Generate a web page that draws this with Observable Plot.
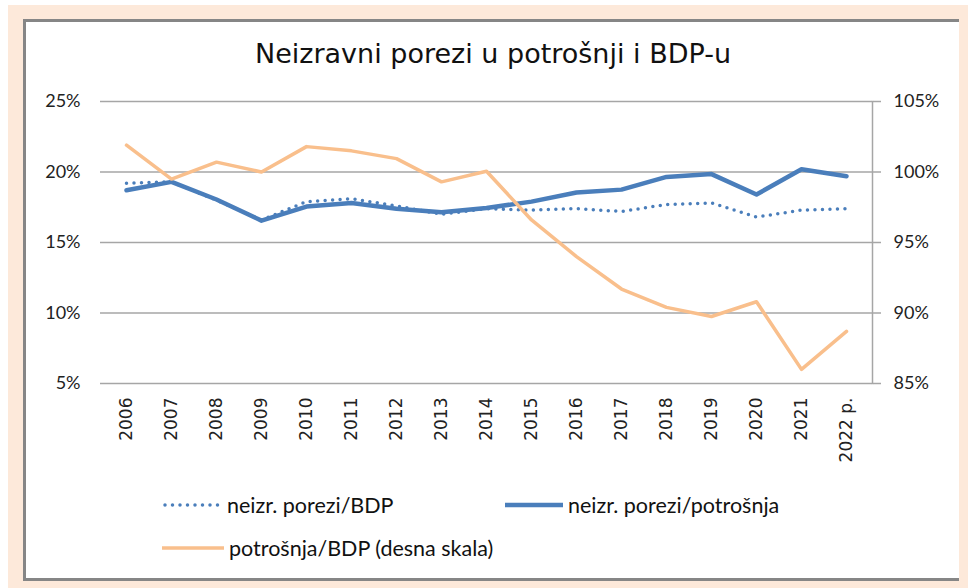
<!DOCTYPE html>
<html><head><meta charset="utf-8">
<script src="https://cdn.jsdelivr.net/npm/d3@7"></script>
<script src="https://cdn.jsdelivr.net/npm/@observablehq/plot@0.6"></script>
<style>
body{margin:0;width:968px;height:588px;position:relative;overflow:hidden;background:#fff;font-family:"DejaVu Sans",sans-serif;}
#bg{position:absolute;left:8px;top:5px;width:960px;height:583px;background:#FDE9DA;}
#box{position:absolute;left:23px;top:19px;width:933px;height:556px;background:#fff;border-top:3px solid #868686;border-left:3px solid #868686;border-bottom:3px solid #868686;}
#title{position:absolute;left:23px;width:940px;top:38px;text-align:center;font-family:"DejaVu Sans";font-size:27px;line-height:32px;color:#111;}
#chart{position:absolute;left:0;top:85px;}
#chart svg{background:transparent;}
.leg{position:absolute;font-family:Lato,sans-serif;font-size:21.5px;color:#111;display:flex;align-items:center;white-space:nowrap;}
.leg svg{margin-right:5px;}
</style></head>
<body>
<div id="bg"></div>
<div id="box"></div>
<div id="title">Neizravni porezi u potrošnji i BDP-u</div>
<div id="chart"></div>
<div id="legend"></div>
<script>
const years = ["2006","2007","2008","2009","2010","2011","2012","2013","2014","2015","2016","2017","2018","2019","2020","2021","2022 p."];
// neizr. porezi/BDP (%), left scale
const taxGdp = [19.2,19.3,18.0,16.6,17.9,18.1,17.6,17.0,17.4,17.3,17.4,17.2,17.7,17.8,16.8,17.3,17.4];
// neizr. porezi/potrošnja (%), left scale
const taxCons = [18.7,19.3,18.05,16.55,17.55,17.8,17.4,17.15,17.45,17.9,18.55,18.75,19.65,19.85,18.4,20.2,19.7];
// potrošnja/BDP (%), right scale
const consGdp = [101.9,99.5,100.7,100.0,101.8,101.5,100.95,99.3,100.05,96.6,94.0,91.7,90.4,89.75,90.8,86.0,88.7];
const leftTicks = [5,10,15,20,25];
const rightTicks = [85,90,95,100,105];
const seriesNames = ["neizr. porezi/BDP","neizr. porezi/potrošnja","potrošnja/BDP (desna skala)"];

// right scale (85..105) mapped onto left scale (5..25)
const rightOffset = rightTicks[0] - leftTicks[0];

const blue = "#4a7ebb", orange = "#f9bf8c", grid = "#a6a6a6";

const d1 = years.map((y,i)=>({year:y, v:taxGdp[i]}));
const d2 = years.map((y,i)=>({year:y, v:taxCons[i]}));
const d3r = years.map((y,i)=>({year:y, v:consGdp[i]-rightOffset}));

const plot = Plot.plot({
  width:968, height:390,
  marginLeft:100, marginRight:96, marginTop:16, marginBottom:92,
  style:{background:"transparent", fontFamily:"Lato", fontSize:"18px", color:"#222"},
  x:{type:"point", domain:years, label:null},
  y:{domain:[leftTicks[0], leftTicks[leftTicks.length-1]], label:null},
  marks:[
    Plot.ruleY(leftTicks, {stroke:grid, strokeWidth:1.5}),
    Plot.frame({anchor:"right", stroke:grid, strokeWidth:1.5}),
    Plot.axisY(leftTicks, {anchor:"left", tickSize:0, tickPadding:20, tickFormat:d=>d+"%", label:null, fontSize:18}),
    Plot.axisY(leftTicks, {anchor:"right", tickSize:8, tickPadding:13, stroke:grid, strokeWidth:1.5, tickFormat:d=>(d+rightOffset)+"%", label:null, fontSize:18}),
    Plot.axisX({tickRotate:-90, tickSize:0, tickPadding:14, fontFamily:"DejaVu Sans", fontSize:17, label:null}),
    Plot.line(d1, {x:"year", y:"v", stroke:blue, strokeWidth:3.5, strokeDasharray:"0 7.5", strokeLinecap:"round"}),
    Plot.line(d2, {x:"year", y:"v", stroke:blue, strokeWidth:4.5}),
    Plot.line(d3r, {x:"year", y:"v", stroke:orange, strokeWidth:3.5})
  ]
});
document.getElementById("chart").appendChild(plot);

// legend
const leg = document.getElementById("legend");
const items = [
  {name:seriesNames[0], left:162, top:492, w:60, dash:"0 7.5", sw:3.5, color:blue},
  {name:seriesNames[1], left:505, top:492, w:58, dash:null, sw:4.5, color:blue},
  {name:seriesNames[2], left:162, top:535, w:62, dash:null, sw:3.5, color:orange}
];
items.forEach(it=>{
  const d = document.createElement("div");
  d.className="leg";
  d.style.left=it.left+"px"; d.style.top=it.top+"px"; d.style.height="26px";
  d.innerHTML = `<svg width="${it.w}" height="10"><line x1="${it.dash?3:0}" x2="${it.w}" y1="5" y2="5" stroke="${it.color}" stroke-width="${it.sw}" ${it.dash?`stroke-dasharray="${it.dash}" stroke-linecap="round"`:""}/></svg><span>${it.name}</span>`;
  leg.appendChild(d);
});
</script>
</body></html>
